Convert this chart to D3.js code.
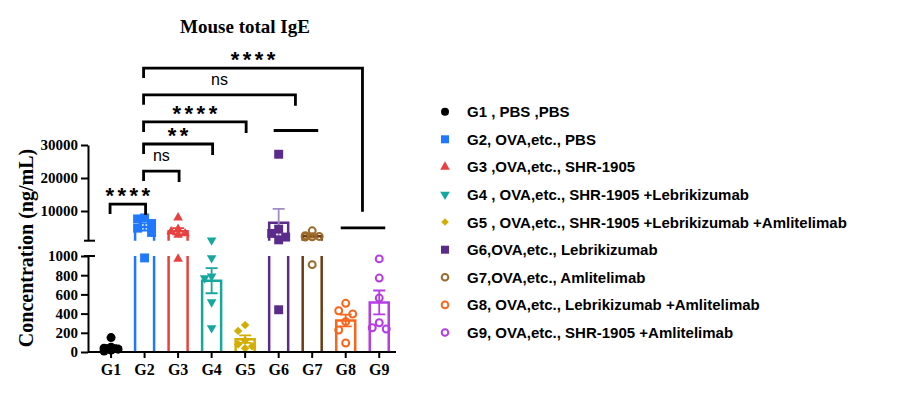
<!DOCTYPE html>
<html>
<head>
<meta charset="utf-8">
<script src="https://cdn.jsdelivr.net/npm/d3@7"></script>
<style>
  body { margin: 0; background: #fff; }
  svg { display: block; }
</style>
</head>
<body>
<script>
// groups and values (ng/mL)
var groups = ["G1", "G2", "G3", "G4", "G5", "G6", "G7", "G8", "G9"];
var legendLabels = [
  "G1 , PBS ,PBS",
  "G2, OVA,etc., PBS",
  "G3 ,OVA,etc., SHR-1905",
  "G4 , OVA,etc., SHR-1905 +Lebrikizumab",
  "G5 , OVA,etc., SHR-1905 +Lebrikizumab +Amlitelimab",
  "G6,OVA,etc., Lebrikizumab",
  "G7,OVA,etc., Amlitelimab",
  "G8, OVA,etc., Lebrikizumab +Amlitelimab",
  "G9, OVA,etc., SHR-1905 +Amlitelimab"
];
var g1 = [150, 40, 10, 50, 20, 30];
var g2 = [7900, 7600, 6200, 4800, 3500, 980];
var g3 = [8000, 4500, 3800, 3200, 2700, 970];
var g4 = [1150, 980, 790, 770, 520, 250];
var g5 = [280, 220, 120, 80, 40, 60];
var g6 = [27200, 4500, 3200, 2100, 1260, 440];
var g7 = [4000, 2500, 2300, 2200, 2100, 910];
var g8 = [507, 430, 396, 316, 229, 94];
var g9 = [970, 770, 562, 305, 240, 253];
var values = [g1, g2, g3, g4, g5, g6, g7, g8, g9];

var lowTicks = [0, 200, 400, 600, 800, 1000];
var highTicks = [10000, 20000, 30000];

// significance comparisons (heights in ng/mL on the upper segment)
var compFrom = ["G1", "G2", "G2", "G2", "G2", "G2"];
var compTo = [["G2"], ["G3"], ["G4"], ["G5"], ["G6", "G7"], ["G8", "G9"]];
var compLabels = ["****", "ns", "**", "****", "ns", "****"];
var compHeights = [12100, 22100, 30300, 37000, 45200, 53300];
var compRightEnd = [null, null, null, null, null, 9800];
var pairHeights = [null, null, null, null, 34400, 4900];

var pointColors = ["#000000", "#1f78ff", "#e8413f", "#16a89e", "#d2ae04", "#5b2b8c", "#9b6a2b", "#f7661c", "#b53de3"];
var barColors = ["#000000", "#1f78ff", "#e8413f", "#16a89e", "#d2ae04", "#5b2b8c", "#6d3b14", "#f7661c", "#b53de3"];
var symbolTypes = [d3.symbolCircle, d3.symbolSquare, d3.symbolTriangle, d3.symbolTriangle, d3.symbolSquare, d3.symbolSquare, d3.symbolCircle, d3.symbolCircle, d3.symbolCircle];
var symbolRotate = [0, 0, 0, 180, 45, 0, 0, 0, 0];
var symbolSize = [64, 80, 40, 40, 36, 80, 38, 38, 38];
var symbolFilled = [true, true, true, true, true, true, false, false, false];

var width = 899, height = 395;
var svg = d3.select("body").append("svg")
  .attr("width", width)
  .attr("height", height);

var axisX0 = 88;
var x = d3.scaleBand().domain(groups).range([94.3, 396]);
var cx = function(g) { return x(g) + x.bandwidth() / 2; };
var yLow = d3.scaleLinear().domain([0, 1000]).range([352, 256]);
var yHigh = d3.scaleLinear().domain([1000, 30000]).range([240.7, 145]);
var yv = function(v) { return v <= 1000 ? yLow(v) : yHigh(v); };

var serif = "'Liberation Serif', 'Times New Roman', serif";
var sans = "'Liberation Sans', Arial, sans-serif";

// title
svg.append("text")
  .attr("x", 245).attr("y", 32.5)
  .attr("text-anchor", "middle")
  .style("font-family", serif).style("font-weight", "bold").style("font-size", "19px")
  .text("Mouse total IgE");

// y label
svg.append("text")
  .attr("transform", "translate(33,248) rotate(-90)")
  .attr("text-anchor", "middle")
  .style("font-family", serif).style("font-weight", "bold").style("font-size", "20px")
  .text("Concentration (ng/mL)");

// bars
var barW = 19;
var stats = values.map(function(v) {
  return { mean: d3.mean(v), sem: d3.deviation(v) / Math.sqrt(v.length) };
});
var barG = svg.append("g").attr("fill", "none").attr("stroke-width", 2.5);
groups.forEach(function(g, i) {
  var m = stats[i].mean;
  var x0 = cx(g) - barW / 2, x1 = cx(g) + barW / 2;
  var p = d3.path();
  if (m <= 1000) {
    p.moveTo(x0, yLow(0)); p.lineTo(x0, yLow(m)); p.lineTo(x1, yLow(m)); p.lineTo(x1, yLow(0));
  } else {
    p.moveTo(x0, yLow(0)); p.lineTo(x0, yLow(1000));
    p.moveTo(x1, yLow(1000)); p.lineTo(x1, yLow(0));
    p.moveTo(x0, yHigh(1000)); p.lineTo(x0, yHigh(m)); p.lineTo(x1, yHigh(m)); p.lineTo(x1, yHigh(1000));
  }
  barG.append("path").attr("d", p.toString()).attr("stroke", barColors[i]);
});

// error bars (mean ± SEM)
var errG = svg.append("g").attr("fill", "none").attr("stroke-width", 1.8);
groups.forEach(function(g, i) {
  var s = stats[i];
  var top = yv(s.mean + s.sem), bot = yv(Math.max(0, s.mean - s.sem));
  var c = cx(g);
  var p = d3.path();
  p.moveTo(c, bot); p.lineTo(c, top);
  p.moveTo(c - 6, top); p.lineTo(c + 6, top);
  p.moveTo(c - 6, bot); p.lineTo(c + 6, bot);
  errG.append("path").attr("d", p.toString()).attr("stroke", i === 5 ? "#a28cc6" : pointColors[i]);
});

// points, nudged sideways (at most one step) so they overlap less
function swarm(vals, center) {
  var placed = [];
  vals.slice().sort(function(a, b) { return b - a; }).forEach(function(v) {
    var py = yv(v), best = center, bestD = -1;
    [0, -1, 1].forEach(function(k) {
      var px = center + k * 7;
      var d = placed.length ? d3.min(placed, function(p) { return Math.hypot(p.x - px, p.y - py); }) : 99;
      if (d >= 9 && bestD < 9) { best = px; bestD = 99; }
      else if (bestD < 9 && d > bestD) { best = px; bestD = d; }
    });
    placed.push({ x: best, y: py });
  });
  return placed;
}
var ptG = svg.append("g");
groups.forEach(function(g, i) {
  var sym = d3.symbol().type(symbolTypes[i]).size(symbolSize[i]);
  ptG.selectAll(null).data(swarm(values[i], cx(g))).enter().append("path")
    .attr("d", sym)
    .attr("transform", function(d) { return "translate(" + d.x + "," + d.y + ") rotate(" + symbolRotate[i] + ")"; })
    .attr("fill", symbolFilled[i] ? pointColors[i] : "none")
    .attr("stroke", symbolFilled[i] ? "none" : pointColors[i])
    .attr("stroke-width", 2);
});

// axes
function styleAxis(sel, size) {
  sel.selectAll("path, line").attr("stroke", "#000").attr("stroke-width", 2);
  sel.selectAll("text")
    .style("font-family", serif).style("font-weight", "bold").style("font-size", size)
    .attr("fill", "#000");
}
svg.append("g").attr("transform", "translate(" + axisX0 + ",0)")
  .call(d3.axisLeft(yLow).tickValues(lowTicks).tickFormat(d3.format("d")).tickSize(7).tickSizeOuter(0).tickPadding(3))
  .call(styleAxis, "15px");
svg.append("g").attr("transform", "translate(" + axisX0 + ",0)")
  .call(d3.axisLeft(yHigh).tickValues(highTicks).tickFormat(d3.format("d")).tickSize(7).tickSizeOuter(0).tickPadding(3))
  .call(styleAxis, "15px");
// break caps
[yHigh(1000), yLow(1000)].forEach(function(yy) {
  svg.append("line").attr("x1", axisX0 - 4).attr("x2", axisX0 + 7)
    .attr("y1", yy).attr("y2", yy).attr("stroke", "#000").attr("stroke-width", 2);
});

var xAxisG = svg.append("g").attr("transform", "translate(0," + yLow(0) + ")")
  .call(d3.axisBottom(x).tickSize(6).tickSizeOuter(0).tickPadding(6))
  .call(styleAxis, "16px");
xAxisG.select(".domain").remove();
xAxisG.append("line").attr("x1", axisX0).attr("x2", x.range()[1])
  .attr("stroke", "#000").attr("stroke-width", 2);

// significance brackets
var brG = svg.append("g").attr("fill", "none").attr("stroke", "#000").attr("stroke-width", 2.8);
compFrom.forEach(function(f, i) {
  var to = compTo[i];
  var yb = yHigh(compHeights[i]);
  var xl = cx(f) - 1;
  var xr = to.length > 1 ? (cx(to[0]) + cx(to[1])) / 2 : cx(to[0]) + 1;
  var yr = compRightEnd[i] !== null ? yHigh(compRightEnd[i]) : yb + 11;
  var p = d3.path();
  p.moveTo(xl, yb + 10); p.lineTo(xl, yb); p.lineTo(xr, yb); p.lineTo(xr, yr);
  if (to.length > 1) {
    var yp = yv(pairHeights[i]);
    p.moveTo(cx(to[0]) - 5, yp); p.lineTo(cx(to[1]) + 6, yp);
  }
  brG.append("path").attr("d", p.toString());

  var isStar = compLabels[i].indexOf("*") >= 0;
  var ls = 3.5;
  svg.append("text")
    .attr("x", (xl + xr) / 2 + (isStar ? ls / 2 : 0))
    .attr("y", isStar ? yb - 1 : yb - 10)
    .attr("text-anchor", "middle")
    .style("font-family", sans)
    .style("font-weight", isStar ? "bold" : "normal")
    .style("font-size", isStar ? "22px" : "16px")
    .style("letter-spacing", isStar ? ls + "px" : "0px")
    .text(compLabels[i]);
});

// legend
var legX = 445, legTextX = 467, legY0 = 111.7, legStep = 27.6;
var legSize = [50, 64, 40, 40, 28, 64, 34, 34, 34];
var leg = svg.append("g");
legendLabels.forEach(function(lab, i) {
  var yy = legY0 + i * legStep;
  leg.append("path")
    .attr("d", d3.symbol().type(symbolTypes[i]).size(legSize[i]))
    .attr("transform", "translate(" + legX + "," + yy + ") rotate(" + symbolRotate[i] + ")")
    .attr("fill", symbolFilled[i] ? pointColors[i] : "none")
    .attr("stroke", symbolFilled[i] ? "none" : pointColors[i])
    .attr("stroke-width", 2);
  leg.append("text")
    .attr("x", legTextX).attr("y", yy + 5.4)
    .style("font-family", sans).style("font-weight", "bold").style("font-size", "15px")
    .text(lab);
});
</script>
</body>
</html>
